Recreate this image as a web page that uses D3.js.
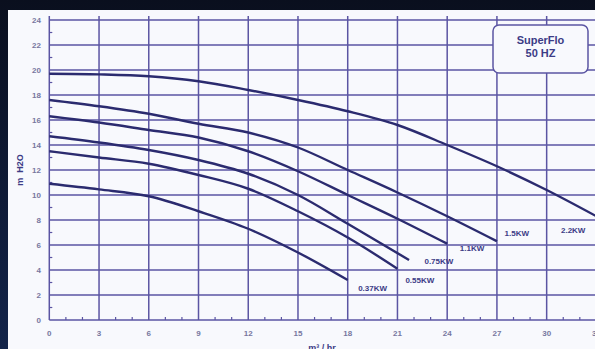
<!DOCTYPE html>
<html><head><meta charset="utf-8">
<script src="https://cdn.jsdelivr.net/npm/d3@7"></script>
<style>html,body{margin:0;padding:0;background:#0b1630;}svg{display:block;}</style>
</head><body>
<svg id="c" width="595" height="349"></svg>
<script>
// ---- data ----
const flow = [0, 3, 6, 9, 12, 15, 18, 21, 24, 27, 30, 33];
const xTicks = [0, 3, 6, 9, 12, 15, 18, 21, 24, 27, 30, 33];
const yTicks = [0, 2, 4, 6, 8, 10, 12, 14, 16, 18, 20, 22, 24];
const seriesNames = ["2.2KW", "1.5KW", "1.1KW", "0.75KW", "0.55KW", "0.37KW"];
const head22  = [19.7, 19.65, 19.5, 19.1, 18.4, 17.6, 16.7, 15.6, 14.0, 12.3, 10.4, 8.3];
const head15  = [17.6, 17.1, 16.5, 15.7, 15.0, 13.8, 12.0, 10.2, 8.3, 6.3];
const head11  = [16.3, 15.8, 15.2, 14.6, 13.5, 11.9, 10.0, 8.1, 6.1];
const head075 = [14.7, 14.2, 13.6, 12.8, 11.7, 10.0, 7.7, 5.5];
const head055 = [13.5, 13.0, 12.5, 11.6, 10.5, 8.7, 6.6, 4.1];
const head037 = [10.9, 10.45, 9.9, 8.7, 7.3, 5.4, 3.2];
const endFlow075 = 21.7;
// label anchor positions (data units: flow, head)
const labelFlow = [31.6, 28.2, 25.5, 23.5, 22.35, 19.5];
const labelHead = [7.0, 6.7, 5.5, 4.5, 3.0, 2.3];
const titleLines = ["SuperFlo", "50 HZ"];
const yTitle = "m  H2O";
const xTitle = "m³ / hr";

const svg = d3.select("#c");
const W = 595, H = 349;
const x = d3.scaleLinear().domain([0, 33]).range([49.3, 596.4]);
const y = d3.scaleLinear().domain([0, 24]).range([320, 20]);

// background & panel
svg.append("rect").attr("width", W).attr("height", H).attr("fill", "#0b1630");
const bg = svg.append("defs").append("linearGradient").attr("id", "bgg").attr("x1", 0).attr("y1", 0).attr("x2", 0).attr("y2", 1);
bg.append("stop").attr("offset", "0").attr("stop-color", "#0a0f1e");
bg.append("stop").attr("offset", "1").attr("stop-color", "#13244a");
svg.append("rect").attr("width", W).attr("height", H).attr("fill", "url(#bgg)");
svg.append("rect").attr("x", 8).attr("y", 10).attr("width", W - 8).attr("height", H - 10).attr("fill", "#f8f9fd");

const gridColor = "#5b55a3";
// grid
svg.append("g").selectAll("line").data(yTicks).join("line")
  .attr("x1", x(0)).attr("x2", W).attr("y1", d => y(d)).attr("y2", d => y(d))
  .attr("stroke", gridColor).attr("stroke-width", 1.5);
svg.append("g").selectAll("line").data(xTicks).join("line")
  .attr("x1", d => x(d)).attr("x2", d => x(d)).attr("y1", y(24) - 4).attr("y2", y(0))
  .attr("stroke", gridColor).attr("stroke-width", 1.5);
// minor ticks
svg.append("g").selectAll("line").data(d3.range(1, 34).filter(d => d % 3 !== 0)).join("line")
  .attr("x1", d => x(d)).attr("x2", d => x(d)).attr("y1", y(0)).attr("y2", y(0) - 3)
  .attr("stroke", gridColor).attr("stroke-width", 1.2);
svg.append("g").selectAll("line").data(d3.range(1, 24, 2)).join("line")
  .attr("x1", x(0)).attr("x2", x(0) + 3).attr("y1", d => y(d)).attr("y2", d => y(d))
  .attr("stroke", gridColor).attr("stroke-width", 1.2);

// tick labels
svg.append("g").selectAll("text").data(yTicks).join("text")
  .attr("x", 41).attr("y", d => y(d) + 3).attr("text-anchor", "end")
  .attr("font-family", "Liberation Sans, Arial, sans-serif").attr("font-size", 8).attr("font-weight", "bold")
  .attr("fill", "#77779f").text(d => d);
svg.append("g").selectAll("text").data(xTicks).join("text")
  .attr("x", d => x(d)).attr("y", 336).attr("text-anchor", "middle")
  .attr("font-family", "Liberation Sans, Arial, sans-serif").attr("font-size", 8).attr("font-weight", "bold")
  .attr("fill", "#77779f").text(d => d);

// axis titles
svg.append("text").attr("transform", "translate(23,170) rotate(-90)").attr("text-anchor", "middle")
  .attr("font-family", "Liberation Sans, Arial, sans-serif").attr("font-size", 9).attr("font-weight", "bold")
  .attr("fill", "#3c3c86").attr("xml:space", "preserve").style("white-space", "pre").text(yTitle);
svg.append("text").attr("x", 322).attr("y", 351).attr("text-anchor", "middle")
  .attr("font-family", "Liberation Sans, Arial, sans-serif").attr("font-size", 9).attr("font-weight", "bold")
  .attr("fill", "#3c3c86").text(xTitle);

// curves
const seriesHeads = [head22, head15, head11, head075, head055, head037];
const curves = seriesHeads.map((h, i) => {
  const pts = h.map((v, j) => [flow[j], v]);
  if (i === 3) pts[pts.length - 1][0] = endFlow075, pts[pts.length - 1][1] = 4.8;
  return pts;
});
const line = d3.line().x(d => x(d[0])).y(d => y(d[1])).curve(d3.curveMonotoneX);
svg.append("g").selectAll("path").data(curves).join("path")
  .attr("d", line).attr("fill", "none").attr("stroke", "#2b2b6f").attr("stroke-width", 2.4)
  .attr("stroke-linejoin", "round");

// curve labels
svg.append("g").selectAll("text").data(seriesNames).join("text")
  .attr("x", (d, i) => x(labelFlow[i])).attr("y", (d, i) => y(labelHead[i])).attr("text-anchor", "middle")
  .attr("font-family", "Liberation Sans, Arial, sans-serif").attr("font-size", 8).attr("font-weight", "bold")
  .attr("fill", "#3c3c86").text(d => d);

// title box
const bx = 493, by = 25, bw = 95, bh = 48;
svg.append("rect").attr("x", bx).attr("y", by).attr("width", bw).attr("height", bh).attr("rx", 6)
  .attr("fill", "#f8f9fd").attr("stroke", "#5b55a3").attr("stroke-width", 1.5);
svg.append("g").selectAll("text").data(titleLines).join("text")
  .attr("x", bx + bw / 2).attr("y", (d, i) => by + 19 + i * 13).attr("text-anchor", "middle")
  .attr("font-family", "Liberation Sans, Arial, sans-serif").attr("font-size", 11).attr("font-weight", "bold")
  .attr("fill", "#3c3c86").text(d => d);
</script>
</body></html>
